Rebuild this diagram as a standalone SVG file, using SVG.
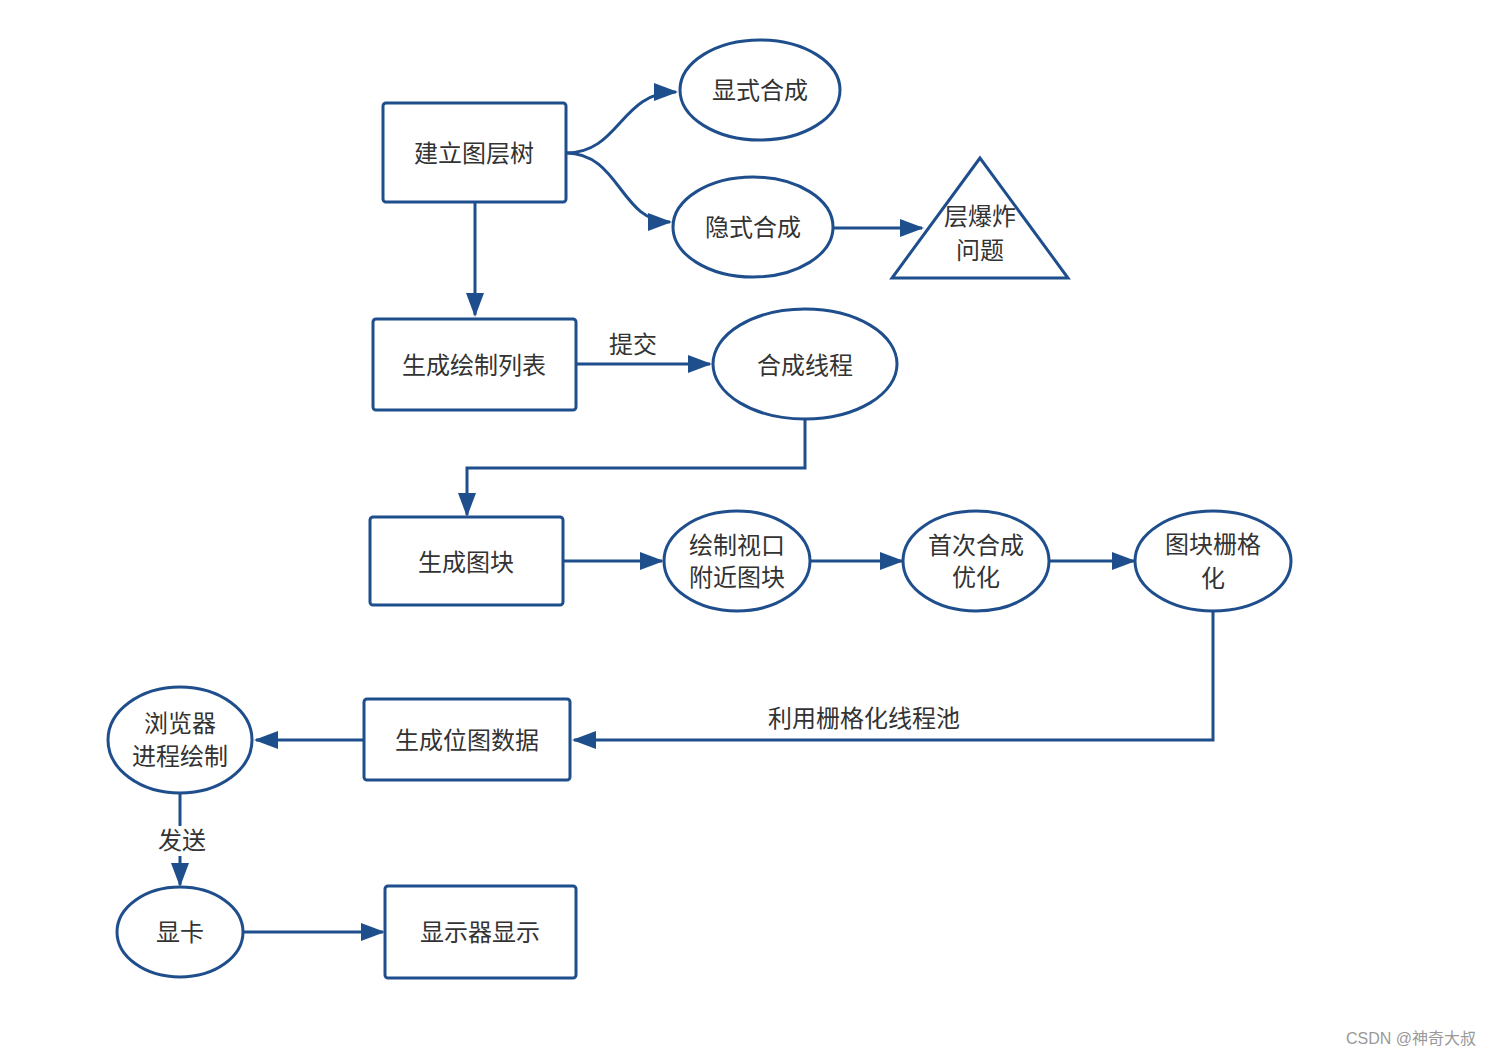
<svg xmlns="http://www.w3.org/2000/svg" width="1492" height="1056" viewBox="0 0 1492 1056">
<style>
.n{fill:#fff;stroke:#1f4e8c;stroke-width:3}
.t{font-family:"Liberation Sans","Noto Sans CJK SC",sans-serif;font-size:24px;fill:#333;text-anchor:middle;dominant-baseline:central}
.c{fill:none;stroke:#1f4e8c;stroke-width:3;marker-end:url(#a)}
</style>
<defs><marker id="a" markerUnits="userSpaceOnUse" markerWidth="24" markerHeight="18" refX="22" refY="9" orient="auto"><path d="M0,0 L24,9 L0,18 z" fill="#1f4e8c"/></marker></defs>
<rect width="1492" height="1056" fill="#fff"/>
<g id="connectors">
<path class="c" d="M566,153 C620,153 620,92 676,92"/>
<path class="c" d="M566,153 C620,153 620,222 670,222"/>
<path class="c" d="M833,228 H922"/>
<path class="c" d="M475,203 V315"/>
<path class="c" d="M576,364 H710"/>
<text class="t" x="633" y="344">提交</text>
<path class="c" d="M805,420 V468 H467 V515"/>
<path class="c" d="M563,561 H662"/>
<path class="c" d="M810,561 H902"/>
<path class="c" d="M1049,561 H1134"/>
<path class="c" d="M1213,611 V740 H574"/>
<text class="t" x="864" y="718">利用栅格化线程池</text>
<path class="c" d="M364,740 H256"/>
<path class="c" d="M180,793 V885"/>
<rect x="155" y="826" width="55" height="30" fill="#fff"/>
<text class="t" x="182" y="840">发送</text>
<path class="c" d="M243,932 H383"/>
</g>
<g id="n1"><rect class="n" x="383" y="103" width="183" height="99" rx="3"/><text class="t" x="474" y="153">建立图层树</text></g>
<g id="n2"><ellipse class="n" cx="760" cy="90" rx="80" ry="50"/><text class="t" x="760" y="90">显式合成</text></g>
<g id="n3"><ellipse class="n" cx="753" cy="227" rx="80" ry="50"/><text class="t" x="753" y="227">隐式合成</text></g>
<g id="n4"><polygon class="n" points="980,158 892,278 1068,278"/><text class="t" x="980" y="216">层爆炸</text><text class="t" x="980" y="250">问题</text></g>
<g id="n5"><rect class="n" x="373" y="319" width="203" height="91" rx="3"/><text class="t" x="474" y="365">生成绘制列表</text></g>
<g id="n6"><ellipse class="n" cx="805" cy="364" rx="92" ry="55"/><text class="t" x="805" y="365">合成线程</text></g>
<g id="n7"><rect class="n" x="370" y="517" width="193" height="88" rx="3"/><text class="t" x="466" y="562">生成图块</text></g>
<g id="n8"><ellipse class="n" cx="737" cy="561" rx="73" ry="50"/><text class="t" x="737" y="545">绘制视口</text><text class="t" x="737" y="577">附近图块</text></g>
<g id="n9"><ellipse class="n" cx="976" cy="561" rx="73" ry="50"/><text class="t" x="976" y="545">首次合成</text><text class="t" x="976" y="577">优化</text></g>
<g id="n10"><ellipse class="n" cx="1213" cy="561" rx="78" ry="50"/><text class="t" x="1213" y="544">图块栅格</text><text class="t" x="1213" y="578">化</text></g>
<g id="n11"><rect class="n" x="364" y="699" width="206" height="81" rx="3"/><text class="t" x="467" y="740">生成位图数据</text></g>
<g id="n12"><ellipse class="n" cx="180" cy="740" rx="72" ry="53"/><text class="t" x="180" y="723">浏览器</text><text class="t" x="180" y="756">进程绘制</text></g>
<g id="n13"><ellipse class="n" cx="180" cy="932" rx="63" ry="45"/><text class="t" x="180" y="932">显卡</text></g>
<g id="n14"><rect class="n" x="385" y="886" width="191" height="92" rx="3"/><text class="t" x="480" y="932">显示器显示</text></g>
<text x="1476" y="1044" font-family="Liberation Sans,Noto Sans CJK SC,sans-serif" font-size="16" fill="#999" text-anchor="end">CSDN @神奇大叔</text>
</svg>
